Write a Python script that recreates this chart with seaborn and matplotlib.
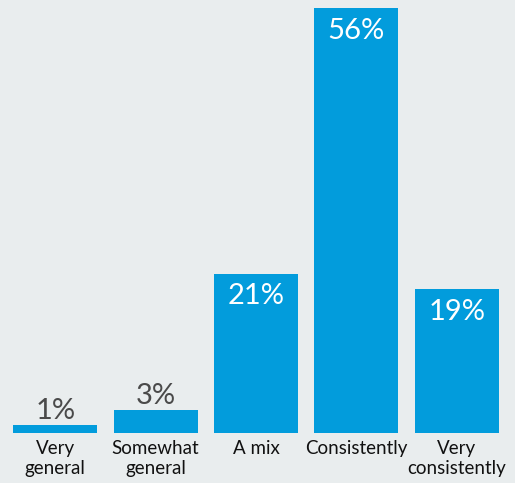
import matplotlib
matplotlib.use("Agg")
import matplotlib.pyplot as plt
import seaborn as sns
import pandas as pd

categories = ["Very\ngeneral", "Somewhat\ngeneral", "A mix", "Consistently", "Very\nconsistently"]
shares = [1, 3, 21, 56, 19]
labels = ["1%", "3%", "21%", "56%", "19%"]

bg = "#e9edee"
blue = "#029cdc"

sns.set_theme(style="white")
plt.rcParams["font.family"] = ["Lato", "DejaVu Sans"]

df = pd.DataFrame({"cat": categories, "share": shares})

fig = plt.figure(figsize=(5.15, 4.83), dpi=100, facecolor=bg)
ax = fig.add_axes([5 / 515, 50 / 483, 502 / 515, 425 / 483])
ax.set_facecolor(bg)

sns.barplot(data=df, x="cat", y="share", color=blue, saturation=1, width=0.836,
            linewidth=0, ax=ax)

ax.set_xlim(-0.5, 4.5)
ax.set_ylim(0, 56)
sns.despine(ax=ax, left=True, bottom=True)
ax.set_yticks([])
ax.set_xlabel("")
ax.set_ylabel("")
ax.tick_params(axis="x", length=0, pad=5, labelsize=13.5, labelcolor="#111111")
for t in ax.get_xticklabels():
    t.set_linespacing(1.25)

for i, (v, lab) in enumerate(zip(shares, labels)):
    if v > 10:
        ax.annotate(lab, (i, v), xytext=(0, -7), textcoords="offset points",
                    ha="center", va="top", color="white", fontsize=21)
    else:
        ax.annotate(lab, (i, v), xytext=(0, 1), textcoords="offset points",
                    ha="center", va="bottom", color="#4a4a4a", fontsize=21)

fig.savefig("out.png", dpi=100, facecolor=bg)
